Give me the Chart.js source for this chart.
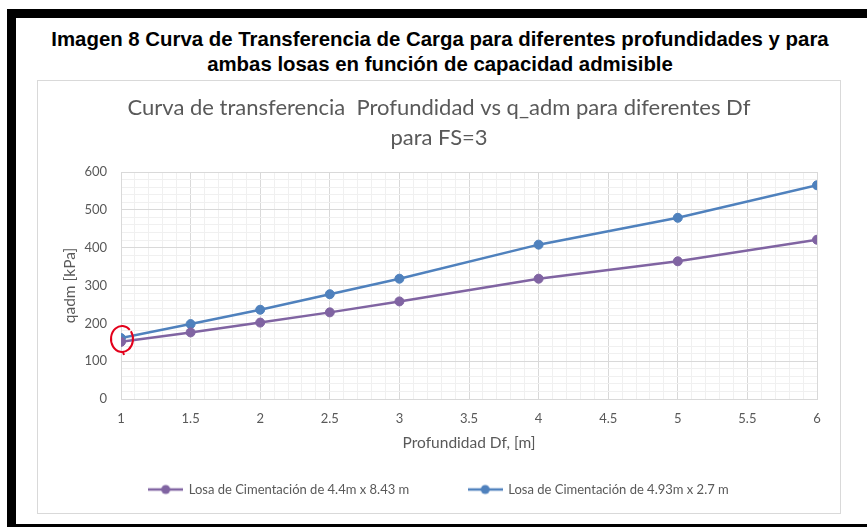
<!DOCTYPE html>
<html>
<head>
<meta charset="utf-8">
<script src="https://cdn.jsdelivr.net/npm/chart.js@4.4.0/dist/chart.umd.min.js"></script>
<style>
    body { margin: 0; width: 867px; height: 527px; overflow: hidden; background: #fff; position: relative; }
    .bar { position: absolute; background: #000; }
    #titulo { position: absolute; left: 15px; top: 27px; width: 850px; text-align: center;
        font: bold 20.4px "Liberation Sans", Arial, sans-serif; line-height: 25px; color: #000; }
    #caja { position: absolute; left: 37px; top: 80px; width: 802px; height: 432px; border: 1px solid #d9d9d9; background: #fff; }
    #caja canvas { position: absolute; left: 0; top: 0; }
</style>
</head>
<body>
<div class="bar" style="left:7px; top:9px; width:860px; height:9px;"></div>
<div class="bar" style="left:7px; top:9px; width:9px; height:518px;"></div>
<div class="bar" style="left:7px; top:524px; width:860px; height:3px;"></div>
<div id="titulo">Imagen 8 Curva de Transferencia de Carga para diferentes profundidades y para<br>ambas losas en función de capacidad admisible</div>
<div id="caja"><canvas id="grafico" width="802" height="432"></canvas></div>

<script>
// datos
const profundidad = [1, 1.5, 2, 2.5, 3, 4, 5, 6];
const losa1 = [151, 176, 202, 229, 258, 318, 364, 421];
const losa2 = [161, 198, 236, 277, 318, 408, 479, 565];
const nombres = ["Losa de Cimentación de 4.4m x 8.43 m", "Losa de Cimentación de 4.93m x 2.7 m"];
const colores = ["#8064A2", "#4F81BD"];
const tituloGrafico = ["Curva de transferencia  Profundidad vs q_adm para diferentes Df", "para FS=3"];

const gris = "#595959";
const fuente = "Lato, 'Open Sans', sans-serif";

function puntos(valores) {
    return profundidad.map((x, i) => ({ x: x, y: valores[i] }));
}

// simbolo de la leyenda: linea con punto
function marcaLeyenda(color) {
    let c = document.createElement("canvas");
    c.width = 35;
    c.height = 12;
    let g = c.getContext("2d");
    g.strokeStyle = color;
    g.lineWidth = 2.5;
    g.beginPath();
    g.moveTo(0, 6);
    g.lineTo(35, 6);
    g.stroke();
    g.fillStyle = color;
    g.beginPath();
    g.arc(17.5, 6, 4.5, 0, Math.PI * 2);
    g.fill();
    return c;
}

function esMayor(v, paso) {
    let r = v / paso;
    return Math.abs(r - Math.round(r)) < 1e-6;
}

// circulo rojo dibujado a mano sobre el primer punto
const circuloRojo = {
    id: "circuloRojo",
    afterDatasetsDraw(chart) {
        let ctx = chart.ctx;
        let x = chart.scales.x.getPixelForValue(profundidad[0]);
        let y = chart.scales.y.getPixelForValue((losa1[0] + losa2[0]) / 2);
        ctx.save();
        ctx.strokeStyle = "#e3001b";
        ctx.lineWidth = 2;
        ctx.beginPath();
        ctx.ellipse(x + 1, y - 1, 11, 13, 0, -0.2 * Math.PI, 1.75 * Math.PI);
        ctx.stroke();
        ctx.beginPath();
        ctx.moveTo(x + 2, y + 12);
        ctx.lineTo(x + 3, y + 15);
        ctx.stroke();
        ctx.restore();
    }
};

new Chart(document.getElementById("grafico"), {
    type: "line",
    data: {
        datasets: [0, 1].map(i => ({
            label: nombres[i],
            data: puntos(i === 0 ? losa1 : losa2),
            borderColor: colores[i],
            backgroundColor: colores[i],
            borderWidth: 2.5,
            pointRadius: 4.5,
            pointBorderWidth: 1,
            pointHoverRadius: 4.5,
            tension: 0
        }))
    },
    options: {
        responsive: false,
        animation: false,
        layout: { padding: { left: 0, right: 0, top: 0, bottom: 7 } },
        plugins: {
            title: {
                display: true,
                text: tituloGrafico,
                color: gris,
                font: { family: fuente, size: 22, weight: "normal", lineHeight: 1.364 },
                padding: { top: 12, bottom: 19 }
            },
            legend: {
                position: "bottom",
                labels: {
                    usePointStyle: true,
                    pointStyleWidth: 33,
                    padding: 10,
                    color: gris,
                    font: { family: fuente, size: 13 },
                    generateLabels: function (chart) {
                        let items = chart.data.datasets.map((ds, i) => ({
                            text: ds.label,
                            pointStyle: marcaLeyenda(ds.borderColor),
                            fillStyle: ds.borderColor,
                            strokeStyle: ds.borderColor,
                            fontColor: gris,
                            lineWidth: 0,
                            hidden: false,
                            datasetIndex: i
                        }));
                        // hueco entre las dos entradas
                        items.splice(1, 0, {
                            text: "",
                            pointStyle: "circle",
                            fillStyle: "rgba(0,0,0,0)",
                            strokeStyle: "rgba(0,0,0,0)",
                            fontColor: gris,
                            lineWidth: 0,
                            hidden: false
                        });
                        return items;
                    }
                }
            },
            tooltip: { enabled: false }
        },
        scales: {
            x: {
                type: "linear",
                min: 1,
                max: 6,
                afterFit: function (scale) {
                    scale.height = 74;
                    scale.paddingRight = 23;
                },
                border: { color: "#d9d9d9" },
                grid: {
                    drawTicks: false,
                    color: ctx => esMayor(ctx.tick.value, 0.5) ? "#d9d9d9" : "#f0f0f0"
                },
                ticks: {
                    stepSize: 0.1,
                    autoSkip: false,
                    maxRotation: 0,
                    padding: 12,
                    color: gris,
                    font: { family: fuente, size: 13 },
                    callback: v => esMayor(v, 0.5) ? String(Math.round(v * 10) / 10) : ""
                },
                title: {
                    display: true,
                    text: "Profundidad Df, [m]",
                    color: gris,
                    font: { family: fuente, size: 15.5 },
                    padding: { top: 0, bottom: 21 }
                }
            },
            y: {
                min: 0,
                max: 600,
                afterFit: function (scale) { scale.width = 83; },
                border: { color: "#d9d9d9" },
                grid: {
                    drawTicks: false,
                    color: ctx => esMayor(ctx.tick.value, 100) ? "#d9d9d9" : "#f0f0f0"
                },
                ticks: {
                    stepSize: 20,
                    autoSkip: false,
                    padding: 14,
                    color: gris,
                    font: { family: fuente, size: 13 },
                    callback: v => esMayor(v, 100) ? String(v) : ""
                },
                title: {
                    display: true,
                    text: "qadm [kPa]",
                    color: gris,
                    font: { family: fuente, size: 15.5 },
                    padding: { top: 23, bottom: 0 }
                }
            }
        }
    },
    plugins: [circuloRojo]
});
</script>
</body>
</html>
